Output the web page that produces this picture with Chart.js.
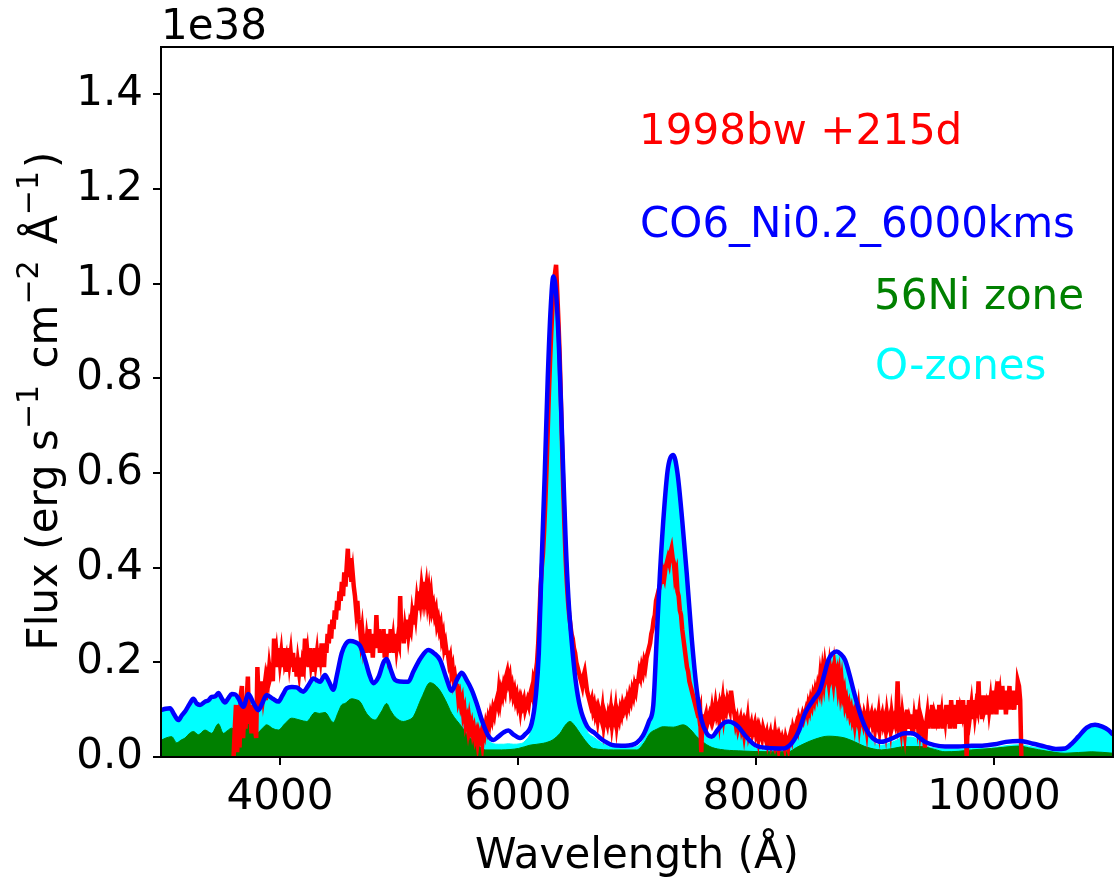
<!DOCTYPE html>
<html>
<head>
<meta charset="utf-8">
<script src="https://cdn.jsdelivr.net/npm/chart.js@4.4.1/dist/chart.umd.min.js"></script>
<style>
  html, body { margin: 0; padding: 0; background: #ffffff; }
  #wrap { width: 1115px; height: 878px; }
</style>
</head>
<body>
<div id="wrap"><canvas id="spec" width="1115" height="878"></canvas></div>
<script>
// Observed nebular spectrum of SN 1998bw at +215 d, uniform wavelength grid (Å)
const obsStart = 3610;
const obsStep = 10;
const obsFlux = [
  0.00, 0.06, 0.11, 0.01, 0.08, 0.02, 0.13, 0.15, 0.04, 0.10, 0.06, 0.12, 0.17, 0.07, 0.11, 0.05, 0.09, 0.11, 0.06, 0.04, // 3610
  0.19, 0.12, 0.15, 0.11, 0.16, 0.13, 0.15, 0.12, 0.17, 0.16, 0.19, 0.17, 0.18, 0.16, 0.25, 0.20, 0.22, 0.19, 0.23, 0.20, // 3810
  0.22, 0.19, 0.23, 0.20, 0.21, 0.18, 0.23, 0.20, 0.22, 0.19, 0.22, 0.18, 0.21, 0.17, 0.20, 0.18, 0.21, 0.17, 0.20, 0.19, // 4010
  0.25, 0.20, 0.22, 0.19, 0.23, 0.20, 0.22, 0.18, 0.23, 0.20, 0.22, 0.19, 0.23, 0.21, 0.24, 0.21, 0.19, 0.24, 0.22, 0.26, // 4210
  0.24, 0.28, 0.25, 0.29, 0.27, 0.31, 0.29, 0.33, 0.31, 0.35, 0.33, 0.37, 0.34, 0.39, 0.36, 0.40, 0.44, 0.38, 0.42, 0.37, // 4410
  0.39, 0.36, 0.34, 0.31, 0.33, 0.29, 0.28, 0.25, 0.27, 0.24, 0.26, 0.22, 0.25, 0.23, 0.27, 0.22, 0.25, 0.21, 0.26, 0.23, // 4610
  0.30, 0.24, 0.27, 0.22, 0.26, 0.23, 0.27, 0.21, 0.25, 0.23, 0.26, 0.22, 0.27, 0.23, 0.25, 0.22, 0.26, 0.23, 0.25, 0.24, // 4810
  0.34, 0.25, 0.28, 0.24, 0.27, 0.25, 0.29, 0.26, 0.28, 0.27, 0.30, 0.28, 0.32, 0.30, 0.33, 0.31, 0.35, 0.33, 0.36, 0.34, // 5010
  0.37, 0.34, 0.36, 0.33, 0.35, 0.32, 0.34, 0.31, 0.32, 0.30, 0.31, 0.28, 0.29, 0.27, 0.28, 0.25, 0.26, 0.23, 0.24, 0.22, // 5210
  0.22, 0.20, 0.21, 0.18, 0.19, 0.16, 0.17, 0.15, 0.15, 0.12, 0.13, 0.11, 0.12, 0.09, 0.10, 0.07, 0.08, 0.06, 0.08, 0.06, // 5410
  0.07, 0.05, 0.06, 0.04, 0.05, 0.03, 0.05, 0.04, 0.05, 0.03, 0.06, 0.05, 0.07, 0.06, 0.08, 0.07, 0.09, 0.08, 0.10, 0.09, // 5610
  0.11, 0.12, 0.11, 0.14, 0.12, 0.14, 0.13, 0.15, 0.14, 0.17, 0.18, 0.16, 0.17, 0.14, 0.15, 0.13, 0.14, 0.12, 0.13, 0.11, // 5810
  0.12, 0.10, 0.12, 0.11, 0.12, 0.10, 0.11, 0.12, 0.11, 0.13, 0.14, 0.13, 0.16, 0.15, 0.18, 0.20, 0.24, 0.30, 0.36, 0.40, // 6010
  0.43, 0.48, 0.54, 0.61, 0.69, 0.77, 0.84, 0.90, 0.95, 0.99, 1.02, 1.04, 0.98, 0.92, 0.85, 0.76, 0.66, 0.57, 0.49, 0.42, // 6210
  0.37, 0.33, 0.30, 0.28, 0.26, 0.25, 0.23, 0.22, 0.20, 0.19, 0.18, 0.17, 0.16, 0.15, 0.17, 0.18, 0.16, 0.14, 0.13, 0.12, // 6410
  0.11, 0.12, 0.10, 0.11, 0.09, 0.10, 0.08, 0.10, 0.09, 0.08, 0.10, 0.07, 0.09, 0.08, 0.07, 0.09, 0.08, 0.10, 0.07, 0.09, // 6610
  0.08, 0.10, 0.07, 0.09, 0.08, 0.10, 0.09, 0.11, 0.10, 0.11, 0.10, 0.12, 0.11, 0.13, 0.12, 0.14, 0.13, 0.15, 0.14, 0.16, // 6810
  0.16, 0.18, 0.17, 0.19, 0.18, 0.20, 0.19, 0.21, 0.22, 0.23, 0.24, 0.26, 0.27, 0.29, 0.30, 0.33, 0.34, 0.35, 0.36, 0.37, // 7010
  0.37, 0.39, 0.38, 0.40, 0.41, 0.42, 0.41, 0.43, 0.44, 0.42, 0.41, 0.38, 0.39, 0.35, 0.34, 0.31, 0.30, 0.27, 0.25, 0.23, // 7210
  0.21, 0.19, 0.18, 0.16, 0.15, 0.14, 0.13, 0.12, 0.11, 0.10, 0.11, 0.09, 0.10, 0.01, 0.09, 0.07, 0.08, 0.09, 0.07, 0.08, // 7410
  0.09, 0.08, 0.10, 0.08, 0.09, 0.11, 0.09, 0.10, 0.08, 0.11, 0.10, 0.12, 0.09, 0.11, 0.10, 0.12, 0.11, 0.10, 0.14, 0.12, // 7610
  0.10, 0.09, 0.07, 0.08, 0.06, 0.07, 0.08, 0.06, 0.07, 0.05, 0.07, 0.06, 0.08, 0.05, 0.06, 0.07, 0.05, 0.06, 0.07, 0.05, // 7810
  0.06, 0.04, 0.06, 0.05, 0.04, 0.06, 0.05, 0.04, 0.05, 0.03, 0.04, 0.05, 0.03, 0.04, 0.03, 0.05, 0.03, 0.04, 0.02, 0.04, // 8010
  0.03, 0.04, 0.03, 0.02, 0.04, 0.03, 0.02, 0.04, 0.05, 0.04, 0.06, 0.05, 0.06, 0.07, 0.06, 0.08, 0.07, 0.08, 0.09, 0.08, // 8210
  0.09, 0.10, 0.09, 0.11, 0.10, 0.12, 0.11, 0.13, 0.12, 0.14, 0.13, 0.15, 0.14, 0.17, 0.15, 0.18, 0.16, 0.19, 0.17, 0.18, // 8410
  0.16, 0.19, 0.17, 0.18, 0.16, 0.19, 0.17, 0.18, 0.15, 0.17, 0.14, 0.16, 0.13, 0.14, 0.11, 0.12, 0.10, 0.11, 0.09, 0.10, // 8610
  0.08, 0.09, 0.07, 0.09, 0.08, 0.10, 0.07, 0.09, 0.08, 0.07, 0.09, 0.08, 0.06, 0.09, 0.07, 0.08, 0.09, 0.07, 0.08, 0.06, // 8810
  0.08, 0.07, 0.09, 0.06, 0.08, 0.09, 0.07, 0.08, 0.06, 0.09, 0.07, 0.08, 0.06, 0.09, 0.07, 0.08, 0.07, 0.09, 0.16, 0.07, // 9010
  0.08, 0.06, 0.09, 0.07, 0.05, 0.08, 0.10, 0.06, 0.08, 0.07, 0.09, 0.05, 0.08, 0.06, 0.10, 0.07, 0.09, 0.06, 0.08, 0.07, // 9210
  0.05, 0.02, 0.07, 0.09, 0.06, 0.10, 0.07, 0.11, 0.06, 0.09, 0.08, 0.10, 0.06, 0.11, 0.07, 0.09, 0.06, 0.10, 0.08, 0.11, // 9410
  0.07, 0.10, 0.06, 0.12, 0.08, 0.10, 0.06, 0.11, 0.08, 0.12, 0.07, 0.10, 0.09, 0.12, 0.07, 0.11, 0.00, 0.08, 0.12, 0.09, // 9610
  0.11, 0.08, 0.12, 0.09, 0.11, 0.10, 0.16, 0.09, 0.12, 0.08, 0.13, 0.10, 0.11, 0.09, 0.13, 0.10, 0.12, 0.09, 0.14, 0.10, // 9810
  0.12, 0.09, 0.16, 0.11, 0.13, 0.10, 0.15, 0.11, 0.14, 0.09, 0.13, 0.11, 0.15, 0.10, 0.14, 0.12, 0.10, 0.14, 0.11, 0.16, // 10010
  0.15, 0.12, 0.00                                                                                                          // 10210
];

// Model spectrum CO6_Ni0.2_6000kms: total flux and O-zone contribution
const modelWave = [
  3000, 3040, 3076, 3110, 3146, 3175, 3202, 3240, 3272, 3300,
  3328, 3370, 3400, 3426, 3455, 3482, 3510, 3538, 3565, 3594,
  3625, 3650, 3692, 3734, 3775, 3818, 3850, 3888, 3940, 3986,
  4020, 4056, 4100, 4140, 4196, 4240, 4280, 4336, 4378, 4410,
  4448, 4480, 4518, 4550, 4588, 4630, 4672, 4710, 4750, 4784,
  4830, 4870, 4896, 4930, 4960, 4980, 5040, 5078, 5120, 5180,
  5246, 5300, 5345, 5400, 5443, 5490, 5527, 5570, 5611, 5653,
  5700, 5750, 5793, 5835, 5880, 5919, 5960, 6017, 6060, 6115,
  6150, 6175, 6200, 6225, 6250, 6275, 6297, 6320, 6345, 6370,
  6400, 6425, 6450, 6485, 6521, 6580, 6647, 6700, 6750, 6801,
  6900, 6997, 7050, 7100, 7137, 7165, 7193, 7230, 7260, 7305,
  7340, 7380, 7418, 7460, 7502, 7540, 7586, 7627, 7680, 7730,
  7768, 7810, 7852, 7920, 7992, 8100, 8230, 8300, 8360, 8412,
  8480, 8538, 8580, 8608, 8640, 8678, 8710, 8748, 8790, 8818,
  8870, 8916, 8980, 9056, 9150, 9252, 9300, 9336, 9420, 9500,
  9588, 9700, 9812, 9900, 10008, 10100, 10218, 10330, 10429, 10520,
  10597, 10660, 10709, 10780, 10849, 10910, 10961, 11000
];
const modelFlux = [
  0.099, 0.102, 0.103, 0.090, 0.078, 0.088, 0.096, 0.112, 0.123, 0.113,
  0.110, 0.117, 0.120, 0.127, 0.128, 0.135, 0.124, 0.115, 0.124, 0.133,
  0.132, 0.124, 0.106, 0.133, 0.115, 0.099, 0.113, 0.131, 0.123, 0.117,
  0.130, 0.145, 0.148, 0.147, 0.138, 0.152, 0.166, 0.159, 0.173, 0.160,
  0.142, 0.175, 0.219, 0.238, 0.245, 0.243, 0.235, 0.210, 0.175, 0.156,
  0.170, 0.200, 0.207, 0.185, 0.165, 0.161, 0.159, 0.159, 0.180, 0.208,
  0.226, 0.218, 0.205, 0.165, 0.140, 0.165, 0.178, 0.162, 0.142, 0.113,
  0.075, 0.045, 0.036, 0.043, 0.052, 0.056, 0.048, 0.040, 0.048, 0.071,
  0.130, 0.220, 0.420, 0.600, 0.800, 0.950, 1.015, 0.980, 0.860, 0.680,
  0.460, 0.330, 0.247, 0.160, 0.106, 0.065, 0.050, 0.038, 0.030, 0.025,
  0.024, 0.030, 0.045, 0.075, 0.110, 0.247, 0.388, 0.530, 0.610, 0.638,
  0.600, 0.500, 0.388, 0.250, 0.142, 0.080, 0.050, 0.043, 0.058, 0.072,
  0.075, 0.072, 0.064, 0.042, 0.025, 0.019, 0.018, 0.029, 0.055, 0.092,
  0.120, 0.142, 0.180, 0.205, 0.218, 0.223, 0.218, 0.205, 0.170, 0.142,
  0.095, 0.064, 0.040, 0.032, 0.040, 0.050, 0.050, 0.048, 0.032, 0.025,
  0.022, 0.022, 0.024, 0.024, 0.027, 0.032, 0.034, 0.028, 0.022, 0.017,
  0.018, 0.030, 0.043, 0.062, 0.068, 0.064, 0.057, 0.047
];
const oxyFlux = [
  0.097, 0.100, 0.101, 0.088, 0.076, 0.086, 0.094, 0.110, 0.121, 0.111,
  0.108, 0.115, 0.118, 0.125, 0.126, 0.133, 0.122, 0.113, 0.122, 0.131,
  0.130, 0.122, 0.104, 0.131, 0.113, 0.097, 0.111, 0.129, 0.121, 0.115,
  0.128, 0.143, 0.146, 0.145, 0.136, 0.150, 0.164, 0.157, 0.171, 0.158,
  0.140, 0.173, 0.217, 0.236, 0.243, 0.241, 0.233, 0.208, 0.173, 0.154,
  0.168, 0.198, 0.205, 0.183, 0.163, 0.159, 0.157, 0.157, 0.178, 0.206,
  0.224, 0.216, 0.203, 0.163, 0.138, 0.160, 0.172, 0.155, 0.135, 0.100,
  0.062, 0.036, 0.028, 0.027, 0.027, 0.028, 0.027, 0.028, 0.034, 0.060,
  0.120, 0.212, 0.412, 0.592, 0.792, 0.942, 1.005, 0.972, 0.852, 0.672,
  0.452, 0.322, 0.240, 0.152, 0.098, 0.055, 0.040, 0.030, 0.024, 0.020,
  0.019, 0.022, 0.035, 0.065, 0.100, 0.238, 0.380, 0.522, 0.602, 0.630,
  0.592, 0.492, 0.380, 0.242, 0.134, 0.072, 0.044, 0.038, 0.054, 0.068,
  0.071, 0.068, 0.059, 0.036, 0.019, 0.014, 0.013, 0.022, 0.048, 0.085,
  0.113, 0.135, 0.173, 0.198, 0.211, 0.216, 0.211, 0.198, 0.163, 0.135,
  0.088, 0.056, 0.032, 0.025, 0.032, 0.042, 0.042, 0.040, 0.025, 0.019,
  0.017, 0.017, 0.018, 0.018, 0.020, 0.024, 0.026, 0.021, 0.017, 0.013,
  0.014, 0.026, 0.039, 0.058, 0.064, 0.060, 0.053, 0.043
];

// 56Ni zone contribution
const niWave = [
  3000, 3040, 3090, 3132, 3170, 3202, 3240, 3272, 3314, 3370,
  3426, 3482, 3524, 3560, 3594, 3640, 3678, 3734, 3770, 3804,
  3850, 3888, 3940, 3986, 4040, 4098, 4168, 4224, 4294, 4330,
  4378, 4448, 4490, 4518, 4546, 4602, 4640, 4672, 4728, 4798,
  4850, 4896, 4930, 4966, 5036, 5080, 5120, 5190, 5261, 5331,
  5390, 5443, 5527, 5580, 5639, 5723, 5863, 6003, 6101, 6213,
  6290, 6353, 6400, 6437, 6480, 6521, 6580, 6633, 6801, 6997,
  7060, 7109, 7160, 7221, 7305, 7389, 7450, 7502, 7613, 7700,
  7852, 8132, 8272, 8340, 8412, 8500, 8608, 8680, 8748, 8830,
  8916, 9056, 9150, 9252, 9392, 9500, 9588, 9700, 9812, 9980,
  10100, 10204, 10320, 10429, 10597, 10821, 11000
];
const niFlux = [
  0.035, 0.040, 0.043, 0.030, 0.036, 0.040, 0.050, 0.054, 0.047, 0.057,
  0.050, 0.070, 0.050, 0.056, 0.061, 0.050, 0.043, 0.071, 0.058, 0.050,
  0.060, 0.068, 0.060, 0.057, 0.070, 0.082, 0.078, 0.075, 0.094, 0.092,
  0.094, 0.073, 0.095, 0.110, 0.113, 0.123, 0.121, 0.117, 0.092, 0.078,
  0.095, 0.113, 0.098, 0.085, 0.075, 0.078, 0.085, 0.125, 0.157, 0.145,
  0.120, 0.092, 0.064, 0.045, 0.032, 0.015, 0.015, 0.018, 0.025, 0.029,
  0.036, 0.050, 0.068, 0.075, 0.065, 0.050, 0.030, 0.018, 0.015, 0.015,
  0.030, 0.050, 0.058, 0.064, 0.063, 0.068, 0.058, 0.043, 0.022, 0.016,
  0.013, 0.011, 0.011, 0.020, 0.029, 0.038, 0.044, 0.043, 0.040, 0.032,
  0.022, 0.015, 0.018, 0.022, 0.022, 0.016, 0.011, 0.012, 0.015, 0.018,
  0.021, 0.023, 0.018, 0.013, 0.008, 0.011, 0.008
];

const xTicks = [4000, 6000, 8000, 10000];
const yTicks = [0.0, 0.2, 0.4, 0.6, 0.8, 1.0, 1.2, 1.4];
const seriesLabels = ['1998bw +215d', 'CO6_Ni0.2_6000kms', '56Ni zone', 'O-zones'];
const seriesColors = ['#ff0000', '#0000ff', '#008000', '#00ffff'];
const offsetLabel = '1e38';
const xTitle = 'Wavelength (\u00c5)';
// y-axis title: [text, isSuperscript]
const yTitleParts = [
  ['Flux (erg s', false], ['\u22121', true], [' cm', false], ['\u22122', true],
  [' \u00c5', false], ['\u22121', true], [')', false]
];

const FONT = '"DejaVu Sans", "Liberation Sans", sans-serif';

const obsPoints = obsFlux.map((v, i) => ({ x: obsStart + i * obsStep, y: v }));
const modelPoints = modelWave.map((w, i) => ({ x: w, y: modelFlux[i] }));
const oxyPoints = modelWave.map((w, i) => ({ x: w, y: oxyFlux[i] }));
const niPoints = niWave.map((w, i) => ({ x: w, y: niFlux[i] }));

// Frame, offset text, in-plot labels and the y-axis title with superscripts
const decorations = {
  id: 'decorations',
  afterDraw(chart) {
    const ctx = chart.ctx;
    const a = chart.chartArea;
    ctx.save();
    ctx.strokeStyle = '#000';
    ctx.lineWidth = 2;
    ctx.strokeRect(a.left, a.top, a.right - a.left, a.bottom - a.top);

    ctx.fillStyle = '#000';
    ctx.font = '42px ' + FONT;
    ctx.textAlign = 'left';
    ctx.textBaseline = 'alphabetic';
    ctx.fillText(offsetLabel, a.left, a.top - 8);

    const spots = [[639, 144], [640, 237], [874, 309], [875, 379]];
    seriesLabels.forEach((t, i) => {
      ctx.fillStyle = seriesColors[i];
      ctx.fillText(t, spots[i][0], spots[i][1]);
    });

    // rotated y title
    const big = '42px ' + FONT, small = '30px ' + FONT;
    const supGap = 3;
    let total = 0;
    yTitleParts.forEach(([t, sup]) => {
      ctx.font = sup ? small : big;
      total += ctx.measureText(t).width + (sup ? supGap : 0);
    });
    ctx.translate(57, 401);
    ctx.rotate(-Math.PI / 2);
    ctx.fillStyle = '#000';
    let x = -total / 2;
    yTitleParts.forEach(([t, sup]) => {
      ctx.font = sup ? small : big;
      ctx.fillText(t, x, sup ? -19 : 0);
      x += ctx.measureText(t).width + (sup ? supGap : 0);
    });
    ctx.restore();
  }
};

const tickFont = { family: FONT, size: 42 };
const gridOpts = { display: true, drawOnChartArea: false, drawTicks: true, tickLength: 8, color: '#000', lineWidth: 2 };

new Chart(document.getElementById('spec'), {
  type: 'line',
  data: {
    datasets: [
      { label: seriesLabels[1], data: modelPoints, borderColor: seriesColors[1], borderWidth: 4.5,
        pointRadius: 0, cubicInterpolationMode: 'monotone', fill: false, order: 1, clip: 0 },
      { label: seriesLabels[0], data: obsPoints, borderColor: seriesColors[0], borderWidth: 4.5,
        pointRadius: 0, tension: 0, fill: false, order: 2, clip: 0 },
      { label: seriesLabels[2], data: niPoints, borderColor: seriesColors[2], backgroundColor: seriesColors[2],
        borderWidth: 1, pointRadius: 0, cubicInterpolationMode: 'monotone', fill: 'origin', order: 3, clip: 0 },
      { label: seriesLabels[3], data: oxyPoints, borderColor: seriesColors[3], backgroundColor: seriesColors[3],
        borderWidth: 1, pointRadius: 0, cubicInterpolationMode: 'monotone', fill: 'origin', order: 4, clip: 0 }
    ]
  },
  options: {
    responsive: false,
    animation: false,
    devicePixelRatio: 1,
    layout: { padding: { top: 47, right: 2, left: 0, bottom: 0 } },
    plugins: { legend: { display: false }, tooltip: { enabled: false } },
    scales: {
      x: {
        type: 'linear', min: 3000, max: 11000,
        afterBuildTicks: s => { s.ticks = xTicks.map(v => ({ value: v })); },
        afterFit: s => { s.height = 121; },
        grid: gridOpts,
        border: { display: false },
        ticks: { font: tickFont, color: '#000', padding: 8, maxRotation: 0, callback: v => String(v) },
        title: { display: true, text: xTitle, font: tickFont, color: '#000', padding: { top: 0, bottom: -4 } }
      },
      y: {
        type: 'linear', min: 0, max: 1.5,
        afterBuildTicks: s => { s.ticks = yTicks.map(v => ({ value: v })); },
        afterFit: s => { s.width = 161; },
        grid: gridOpts,
        border: { display: false },
        ticks: { font: tickFont, color: '#000', padding: 10, callback: v => Number(v).toFixed(1) }
      }
    }
  },
  plugins: [decorations]
});
</script>
</body>
</html>
